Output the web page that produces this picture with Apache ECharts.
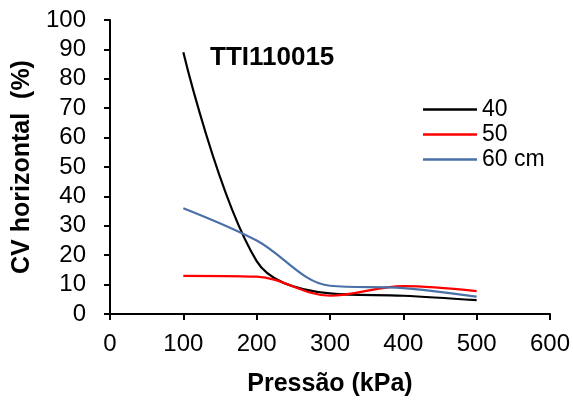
<!DOCTYPE html>
<html>
<head>
<meta charset="utf-8">
<script src="https://cdn.jsdelivr.net/npm/echarts@6/dist/echarts.min.js"></script>
<style>html,body{margin:0;padding:0;background:#fff;}#c{width:573px;height:410px;}</style>
</head>
<body>
<div id="c"></div>
<script>
const pressures = [100, 200, 300, 400, 500];
const cv40 = [89, 18, 7, 6.2, 4.7];
const cv50 = [13, 12.7, 6.2, 9.5, 7.8];
const cv60 = [36, 25, 9.6, 8.8, 5.9];
const seriesNames = ['40', '50', '60 cm'];
const seriesColors = ['#000000', '#ff0000', '#4a70a8'];
const titleText = 'TTI110015';

const font = 'Liberation Sans, Arial, sans-serif';
const chart = echarts.init(document.getElementById('c'));
const toPairs = arr => pressures.map((p, i) => [p, arr[i]]);
chart.setOption({
  animation: false,
  title: { text: titleText, left: 210, top: 45, padding: 0, textStyle: { fontFamily: font, fontSize: 26, fontWeight: 'bold', color: '#000' } },
  legend: {
    orient: 'vertical', left: 423, top: 98, padding: 0, itemWidth: 54, itemHeight: 2.5, itemGap: 2,
    textStyle: { fontFamily: font, fontSize: 23, color: '#000', lineHeight: 23 },
    data: seriesNames.map(n => ({ name: n, icon: 'rect' }))
  },
  grid: { left: 110, right: 22, top: 20, bottom: 96 },
  xAxis: {
    type: 'value', min: 0, max: 600, interval: 100,
    name: 'Pressão (kPa)', nameLocation: 'middle', nameGap: 58,
    nameTextStyle: { fontFamily: font, fontSize: 25, fontWeight: 'bold', color: '#000' },
    axisLine: { lineStyle: { color: '#000', width: 2 } },
    axisTick: { show: true, length: 6, lineStyle: { color: '#000', width: 2 } },
    axisLabel: { fontFamily: font, fontSize: 24, color: '#000', margin: 18 },
    splitLine: { show: false }
  },
  yAxis: {
    type: 'value', min: 0, max: 100, interval: 10,
    name: 'CV horizontal  (%)', nameLocation: 'middle', nameGap: 68,
    nameTextStyle: { fontFamily: font, fontSize: 25, fontWeight: 'bold', color: '#000' },
    axisLine: { show: true, lineStyle: { color: '#000', width: 2 } },
    axisTick: { show: true, length: 6, lineStyle: { color: '#000', width: 2 } },
    axisLabel: { fontFamily: font, fontSize: 24, color: '#000', margin: 24 },
    splitLine: { show: false }
  },
  series: [cv40, cv50, cv60].map((arr, i) => ({
    name: seriesNames[i], type: 'line', smooth: 0.35, showSymbol: false,
    data: toPairs(arr), color: seriesColors[i],
    lineStyle: { width: 2.2, color: seriesColors[i] }
  }))
});
</script>
</body>
</html>
